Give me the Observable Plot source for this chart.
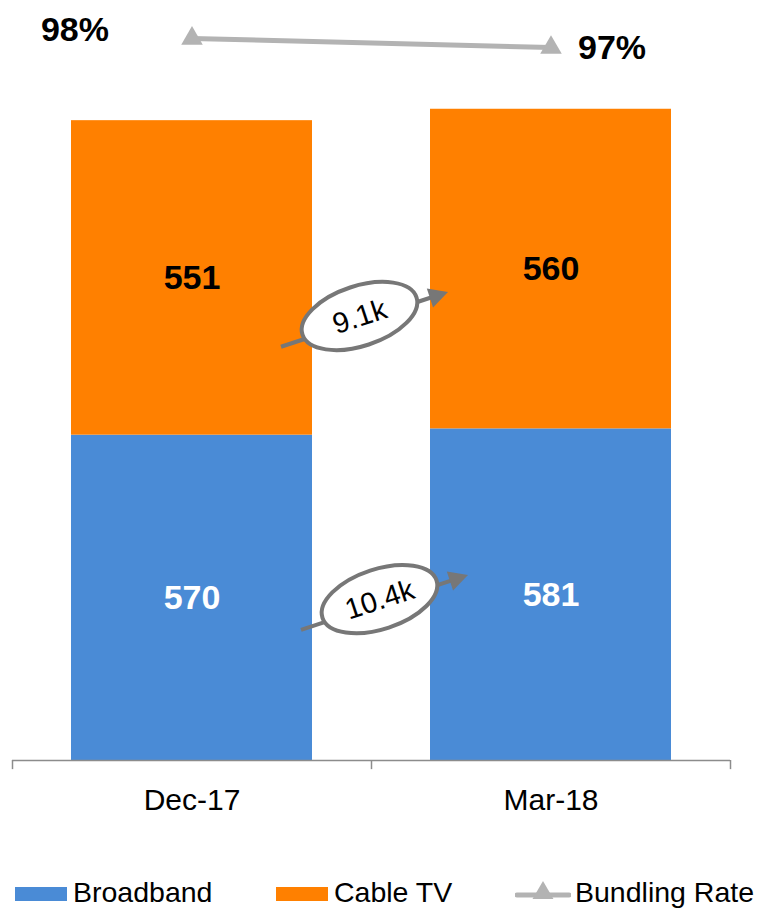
<!DOCTYPE html>
<html>
<head>
<meta charset="utf-8">
<script src="https://cdn.jsdelivr.net/npm/d3@7"></script>
<script src="https://cdn.jsdelivr.net/npm/@observablehq/plot@0.6"></script>
<style>
  html, body { margin: 0; padding: 0; background: #fff; }
  #wrap { position: relative; width: 758px; height: 910px; overflow: hidden;
          font-family: "Liberation Sans", Arial, sans-serif; }
  #legend { position: absolute; left: 0; top: 868px; width: 758px; height: 42px; }
  .lg-item { position: absolute; top: 0; height: 45px; display: flex; align-items: center; }
  .lg-sw { width: 52px; height: 14px; margin-top: 6px; }
  .lg-tx { font-size: 28.5px; color: #000; margin-left: 6px; white-space: nowrap; line-height: 1; margin-top: 4px; }
</style>
</head>
<body>
<div id="wrap">
  <div id="chart"></div>
  <div id="legend"></div>
</div>
<script>
// ---- data ----
const periods = ["Dec-17", "Mar-18"];
const broadband = [570, 581];
const cableTV = [551, 560];
const bundlingRate = [98, 97];           // percent
const broadbandGrowth = "10.4k";
const cableGrowth = "9.1k";
const seriesNames = ["Broadband", "Cable TV", "Bundling Rate"];

// ---- styles ----
const colors = {"Broadband": "#4a8bd6", "Cable TV": "#ff8000", "Bundling Rate": "#b3b3b3"};
const labelColors = {"Broadband": "#ffffff", "Cable TV": "#000000"};
const FONT = '"Liberation Sans", Arial, sans-serif';

const stacked = [];
periods.forEach((p, i) => {
  stacked.push({period: p, series: "Broadband", value: broadband[i]});
  stacked.push({period: p, series: "Cable TV", value: cableTV[i]});
});
// secondary (percent) axis mapped onto the primary value axis
const rateY = d3.scaleLinear().domain([97, 98]).range([1249, 1265]);
const rates = periods.map((p, i) => ({period: p, rate: bundlingRate[i]}));

const plot = Plot.plot({
  width: 758,
  height: 865,
  marginLeft: 12,
  marginRight: 28,
  marginTop: 18,
  marginBottom: 105,
  style: {fontFamily: FONT, background: "white", overflow: "visible"},
  x: {domain: periods, axis: null, paddingInner: 0.33, paddingOuter: 0.165},
  y: {domain: [0, 1300], axis: null},
  color: {type: "identity"},
  marks: [
    Plot.barY(stacked, {x: "period", y: "value", fill: d => colors[d.series]}),
    Plot.text(stacked, Plot.stackY({x: "period", y: "value", text: d => String(d.value),
      fill: d => labelColors[d.series], fontSize: 34, fontWeight: "bold"})),
    Plot.ruleY([0], {stroke: "#8c8c8c", strokeWidth: 1.5}),
    Plot.ruleX(periods, {x: d => d, y1: 0, y2: -16, dx: -179.5, stroke: "#8c8c8c", strokeWidth: 1.5}),
    Plot.ruleX([periods[periods.length - 1]], {x: d => d, y1: 0, y2: -16, dx: 179.5, stroke: "#8c8c8c", strokeWidth: 1.5}),
    Plot.text(periods, {x: d => d, y: 0, dy: 40, text: d => d, fontSize: 30, fill: "#000"}),
    Plot.line(rates, {x: "period", y: d => rateY(d.rate), stroke: colors["Bundling Rate"], strokeWidth: 5}),
    Plot.dot(rates, {x: "period", y: d => rateY(d.rate), symbol: "triangle", r: 8, fill: colors["Bundling Rate"], stroke: "none"}),
    Plot.text(rates.slice(0, 1), {x: "period", y: d => rateY(d.rate), text: d => d.rate + "%",
      textAnchor: "end", dx: -83, dy: -8, fontSize: 34, fontWeight: "bold", fill: "#000"}),
    Plot.text(rates.slice(1), {x: "period", y: d => rateY(d.rate), text: d => d.rate + "%",
      textAnchor: "start", dx: 27, dy: 1, fontSize: 34, fontWeight: "bold", fill: "#000"})
  ]
});
document.getElementById("chart").appendChild(plot);

// ---- growth annotations, positioned through the plot's scales ----
const sx = plot.scale("x"), sy = plot.scale("y");
const bandX = sx.apply ? (v => sx.apply(v)) :
  d3.scaleBand(sx.domain, sx.range).paddingInner(sx.paddingInner).paddingOuter(sx.paddingOuter).align(sx.align ?? 0.5);
const bw = sx.bandwidth;
const linY = sy.apply ? (v => sy.apply(v)) : d3.scaleLinear(sy.domain, sy.range);

const annotations = [
  {label: cableGrowth, tailV: 724, tipV: 820, tailOff: -31, tipOff: 18},
  {label: broadbandGrowth, tailV: 228, tipV: 324, tailOff: -11, tipOff: 38}
];
const svg = d3.select(plot);
const g = svg.append("g");
const AC = "#777777";
annotations.forEach(a => {
  const x0 = bandX(periods[0]) + bw + a.tailOff, y0 = linY(a.tailV);
  const x1 = bandX(periods[1]) + a.tipOff, y1 = linY(a.tipV);
  const ang = Math.atan2(y1 - y0, x1 - x0), deg = ang * 180 / Math.PI;
  const ux = Math.cos(ang), uy = Math.sin(ang);
  const headL = 19, headW = 10;
  const bx = x1 - ux * headL, by = y1 - uy * headL;
  g.append("line").attr("x1", x0).attr("y1", y0).attr("x2", bx + ux * 2).attr("y2", by + uy * 2)
    .attr("stroke", AC).attr("stroke-width", 4);
  g.append("path")
    .attr("d", `M${x1},${y1}L${bx - uy * headW},${by + ux * headW}L${bx + uy * headW},${by - ux * headW}Z`)
    .attr("fill", AC);
  const t = 0.47;
  const cx = x0 + (x1 - x0) * t, cy = y0 + (y1 - y0) * t - 5;
  g.append("ellipse").attr("cx", 0).attr("cy", 0).attr("rx", 60).attr("ry", 30)
    .attr("transform", `translate(${cx},${cy}) rotate(${deg})`)
    .attr("fill", "white").attr("stroke", AC).attr("stroke-width", 4);
  g.append("text").attr("transform", `translate(${cx},${cy}) rotate(${deg})`)
    .attr("text-anchor", "middle").attr("dy", "0.35em")
    .attr("font-family", FONT).attr("font-size", 29).attr("fill", "#000")
    .text(a.label);
});

// ---- legend ----
const legend = d3.select("#legend");
const lgPos = [15, 276, 515];
seriesNames.forEach((name, i) => {
  const item = legend.append("div").attr("class", "lg-item").style("left", lgPos[i] + "px");
  if (name === "Bundling Rate") {
    const s = item.append("svg").attr("width", 56).attr("height", 30).style("margin-top", "6px");
    s.append("line").attr("x1", 2).attr("x2", 54).attr("y1", 16).attr("y2", 16)
      .attr("stroke", colors[name]).attr("stroke-width", 5).attr("stroke-linecap", "round");
    s.append("path").attr("d", d3.symbol(d3.symbolTriangle, 190)()).attr("transform", "translate(28,14)")
      .attr("fill", colors[name]);
    item.append("div").attr("class", "lg-tx").style("margin-left", "4px").text(name);
  } else {
    item.append("div").attr("class", "lg-sw").style("background", colors[name]);
    item.append("div").attr("class", "lg-tx").text(name);
  }
});
</script>
</body>
</html>
